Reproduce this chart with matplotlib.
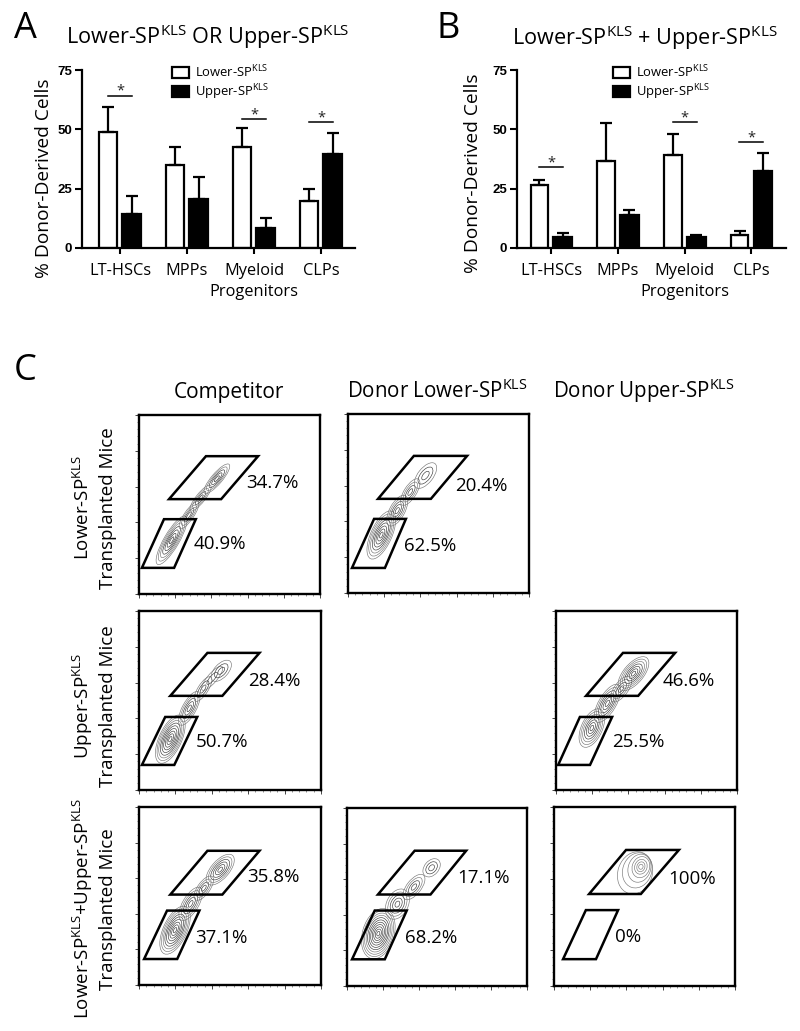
import numpy as np
import matplotlib
matplotlib.use("Agg")
import matplotlib.pyplot as plt
from matplotlib.patches import Ellipse, Polygon
from matplotlib.ticker import MultipleLocator

plt.rcParams["font.family"] = ["Open Sans", "DejaVu Sans"]
plt.rcParams["mathtext.fontset"] = "custom"
plt.rcParams["mathtext.rm"] = "Open Sans"
plt.rcParams["mathtext.default"] = "rm"

KLS = r"$^{\mathrm{KLS}}$"

# bar charts
categories = ["LT-HSCs", "MPPs", "Myeloid\nProgenitors", "CLPs"]
lower_a = [49, 35, 42.5, 20]
lower_a_top = [59.5, 42.5, 50.5, 25]
upper_a = [14.5, 20.5, 8.5, 39.5]
upper_a_top = [22, 30, 12.5, 48.5]
sig_a = [(0, 64.2), (2, 54.5), (3, 53)]

lower_b = [26.5, 36.5, 39, 5.5]
lower_b_top = [28.5, 52.5, 48, 7]
upper_b = [4.5, 14, 4.5, 32.5]
upper_b_top = [6.5, 16, 5.5, 40]
sig_b = [(0, 34), (2, 53), (3, 44.5)]

# flow panels, everything in decades (0-5 on both axes)
# pct: upper, lower
panel_pct = [
    ["34.7%", "40.9%"], ["20.4%", "62.5%"], ["28.4%", "50.7%"], ["46.6%", "25.5%"],
    ["35.8%", "37.1%"], ["17.1%", "68.2%"], ["100%", "0%"],
]
# label anchors: x upper, y upper, x lower, y lower
pct_pos = [
    [2.97, 3.10, 1.52, 1.40], [2.96, 2.99, 1.55, 1.31], [2.99, 3.04, 1.55, 1.34],
    [2.95, 3.04, 1.54, 1.34], [2.98, 3.02, 1.55, 1.31], [3.07, 3.04, 1.60, 1.34],
    [3.16, 2.99, 1.68, 1.37],
]
# gates: bottom-left x, bottom-right x, top-right x, top-left x, bottom y, top y
upper_gates = [
    [0.83, 2.27, 3.29, 1.85, 2.65, 3.85], [0.83, 2.29, 3.29, 1.82, 2.63, 3.83],
    [0.86, 2.29, 3.31, 1.88, 2.63, 3.83], [0.83, 2.27, 3.29, 1.85, 2.63, 3.83],
    [0.86, 2.29, 3.31, 1.88, 2.54, 3.77], [0.86, 2.32, 3.31, 1.88, 2.57, 3.80],
    [0.97, 2.40, 3.45, 1.99, 2.57, 3.80],
]
lower_gates = [
    [0.08, 0.97, 1.57, 0.69, 0.73, 2.09], [0.11, 1.02, 1.60, 0.72, 0.70, 2.07],
    [0.08, 0.97, 1.60, 0.72, 0.70, 2.04], [0.06, 0.94, 1.55, 0.66, 0.70, 2.04],
    [0.14, 1.05, 1.66, 0.77, 0.73, 2.09], [0.14, 1.05, 1.66, 0.77, 0.75, 2.12],
    [0.25, 1.16, 1.77, 0.88, 0.75, 2.12],
]
# contour lobes: x, y, length, width, angle, rings
panel_lobes = [
    [(0.90, 1.50, 1.55, 0.42, 60, 7), (1.38, 2.20, 0.90, 0.26, 56, 4), (1.70, 2.68, 0.90, 0.25, 52, 4),
     (2.15, 3.22, 1.05, 0.30, 50, 5)],
    [(0.92, 1.62, 1.45, 0.58, 66, 8), (1.36, 2.30, 0.95, 0.42, 62, 5), (1.72, 2.82, 0.85, 0.34, 58, 4),
     (2.14, 3.28, 0.85, 0.42, 52, 3)],
    [(0.86, 1.42, 1.45, 0.62, 66, 9), (1.38, 2.28, 1.05, 0.38, 62, 5), (1.76, 2.82, 0.80, 0.28, 58, 3),
     (2.01, 3.12, 0.85, 0.26, 50, 2), (2.26, 3.33, 0.72, 0.38, 48, 3)],
    [(0.99, 1.73, 1.15, 0.58, 66, 7), (1.42, 2.42, 1.20, 0.48, 60, 6), (1.80, 2.82, 0.85, 0.38, 54, 4),
     (2.14, 3.25, 1.15, 0.55, 50, 7)],
    [(0.99, 1.54, 1.45, 0.65, 66, 9), (1.42, 2.28, 1.05, 0.44, 60, 5), (1.78, 2.72, 0.80, 0.34, 55, 4),
     (2.23, 3.24, 1.05, 0.50, 50, 6)],
    [(0.87, 1.47, 1.45, 0.88, 74, 11), (1.40, 2.30, 0.90, 0.60, 64, 5), (1.86, 2.78, 0.85, 0.40, 52, 4),
     (2.35, 3.32, 0.58, 0.40, 50, 3)],
    [(2.24, 3.16, 1.20, 0.95, 72, 1), (2.30, 3.23, 1.00, 0.80, 72, 1), (2.36, 3.29, 0.80, 0.62, 72, 1),
     (2.40, 3.32, 0.60, 0.48, 72, 1), (2.40, 3.33, 0.42, 0.34, 72, 1), (2.40, 3.33, 0.28, 0.22, 72, 1),
     (2.40, 3.33, 0.14, 0.12, 72, 1)],
]

W, H = 800, 1031
fig = plt.figure(figsize=(W / 100, H / 100), dpi=100)


def px_axes(left, top, right, bottom):
    return fig.add_axes([left / W, 1 - bottom / H, (right - left) / W, (bottom - top) / H])


def px_text(x, y, s, **kw):
    fig.text(x / W, 1 - y / H, s, **kw)


def bar_chart(rect, xlim, low, low_top, up, up_top, sig, legend_x, label_xy):
    ax = px_axes(*rect)
    x = np.arange(len(categories))
    low_err = np.array(low_top) - np.array(low)
    up_err = np.array(up_top) - np.array(up)
    ax.bar(x - 0.175, low, 0.265, color="white", edgecolor="black", linewidth=1.6, label="Lower-SP" + KLS)
    ax.bar(x + 0.175, up, 0.28, color="black", edgecolor="black", linewidth=1.6, label="Upper-SP" + KLS)
    ax.errorbar(x - 0.175, low, yerr=[np.zeros(4), low_err], fmt="none", ecolor="black",
                elinewidth=1.6, capsize=4, capthick=1.6, zorder=1)
    ax.errorbar(x + 0.175, up, yerr=[np.zeros(4), up_err], fmt="none", ecolor="black",
                elinewidth=1.6, capsize=4, capthick=1.6, zorder=1)
    for cat, y in sig:
        ax.plot([cat - 0.18, cat + 0.18], [y, y], color="black", lw=1.1)
        ax.text(cat, y - 1.4, "*", ha="center", va="bottom", fontsize=10.5, color="#222222")
    ax.set_xlim(*xlim)
    ax.set_ylim(0, 75)
    ax.set_xticks(x)
    ax.set_xticklabels(categories, fontsize=11.8, linespacing=1.4)
    ax.set_yticks([0, 25, 50, 75])
    for lab in ax.get_yticklabels():
        lab.set_fontfamily("Liberation Sans")
        lab.set_fontweight("bold")
        lab.set_fontsize(9.5)
    ax.tick_params(axis="x", length=4, width=1.5, pad=7)
    ax.tick_params(axis="y", length=5, width=1.5, pad=2)
    ax.set_ylabel("% Donor-Derived Cells", fontsize=13.8)
    ax.yaxis.set_label_coords(*label_xy)
    for s in ["top", "right"]:
        ax.spines[s].set_visible(False)
    for s in ["left", "bottom"]:
        ax.spines[s].set_linewidth(1.6)
    ax.legend(loc="upper left", bbox_to_anchor=(legend_x, 1.035), frameon=False, fontsize=9.4,
              handlelength=1.3, handleheight=0.9, labelspacing=0.12, handletextpad=0.45,
              borderpad=0, borderaxespad=0)
    return ax


ax_a = bar_chart((82, 70, 355, 248), (-0.567, 3.507), lower_a, lower_a_top, upper_a, upper_a_top,
                 sig_a, 0.33, (-0.106, 0.39))
ax_b = bar_chart((517, 70, 786, 248), (-0.51, 3.52), lower_b, lower_b_top, upper_b, upper_b_top,
                 sig_b, 0.357, (-0.13, 0.42))

px_text(14, 38, "A", fontsize=26, color="black")
px_text(436, 38, "B", fontsize=26, color="black")
px_text(14, 380, "C", fontsize=26, color="black")
px_text(208, 44, "Lower-SP" + KLS + " OR Upper-SP" + KLS, fontsize=15.6, ha="center")
px_text(645, 45, "Lower-SP" + KLS + " + Upper-SP" + KLS, fontsize=15.6, ha="center")

px_text(229, 398, "Competitor", fontsize=15, ha="center")
px_text(437, 398, "Donor Lower-SP" + KLS, fontsize=14.8, ha="center")
px_text(644, 398, "Donor Upper-SP" + KLS, fontsize=14.8, ha="center")

row_first = ["Lower-SP" + KLS, "Upper-SP" + KLS, "Lower-SP" + KLS + "+Upper-SP" + KLS]
row_centres = [508, 706, 909]
for label, yc in zip(row_first, row_centres):
    px_text(83, yc, label, fontsize=13.5, rotation=90, ha="center", va="center")
    px_text(108, yc, "Transplanted Mice", fontsize=13.5, rotation=90, ha="center", va="center")

panel_rects = [
    (139, 415, 320, 594), (348, 414, 529, 593), (139, 611, 321, 790), (556, 611, 737, 790),
    (139, 807, 321, 985), (347, 808, 527, 986), (554, 807, 735, 986),
]
for i, rect in enumerate(panel_rects):
    ax = px_axes(*rect)
    ax.set_xlim(0, 5)
    ax.set_ylim(0, 5)
    ax.set_xticklabels([])
    ax.set_yticklabels([])
    ax.xaxis.set_major_locator(MultipleLocator(1))
    ax.yaxis.set_major_locator(MultipleLocator(1))
    ax.xaxis.set_minor_locator(MultipleLocator(0.2))
    ax.yaxis.set_minor_locator(MultipleLocator(0.2))
    ax.tick_params(which="major", length=3, width=0.7, color="#444444")
    ax.tick_params(which="minor", length=1.5, width=0.5, color="#666666")
    for s in ax.spines.values():
        s.set_linewidth(1.7)

    for (cx, cy, length, width, angle, rings) in panel_lobes[i]:
        for r in range(rings):
            k = 1 - r / rings
            ax.add_patch(Ellipse((cx, cy), length * k, width * k, angle=angle, fill=False,
                                 edgecolor="#777777" if r < rings / 3 else "#3a3a3a", linewidth=0.45))

    for gate in (upper_gates[i], lower_gates[i]):
        x0, x1, x2, x3, y0, y1 = gate
        ax.add_patch(Polygon([(x0, y0), (x1, y0), (x2, y1), (x3, y1)], closed=True, fill=False,
                             edgecolor="black", linewidth=1.8, joinstyle="miter"))

    xu, yu, xl, yl = pct_pos[i]
    ax.text(xu, yu, panel_pct[i][0], fontsize=13.5, va="center", ha="left")
    ax.text(xl, yl, panel_pct[i][1], fontsize=13.5, va="center", ha="left")

fig.savefig("out.png", dpi=100)
